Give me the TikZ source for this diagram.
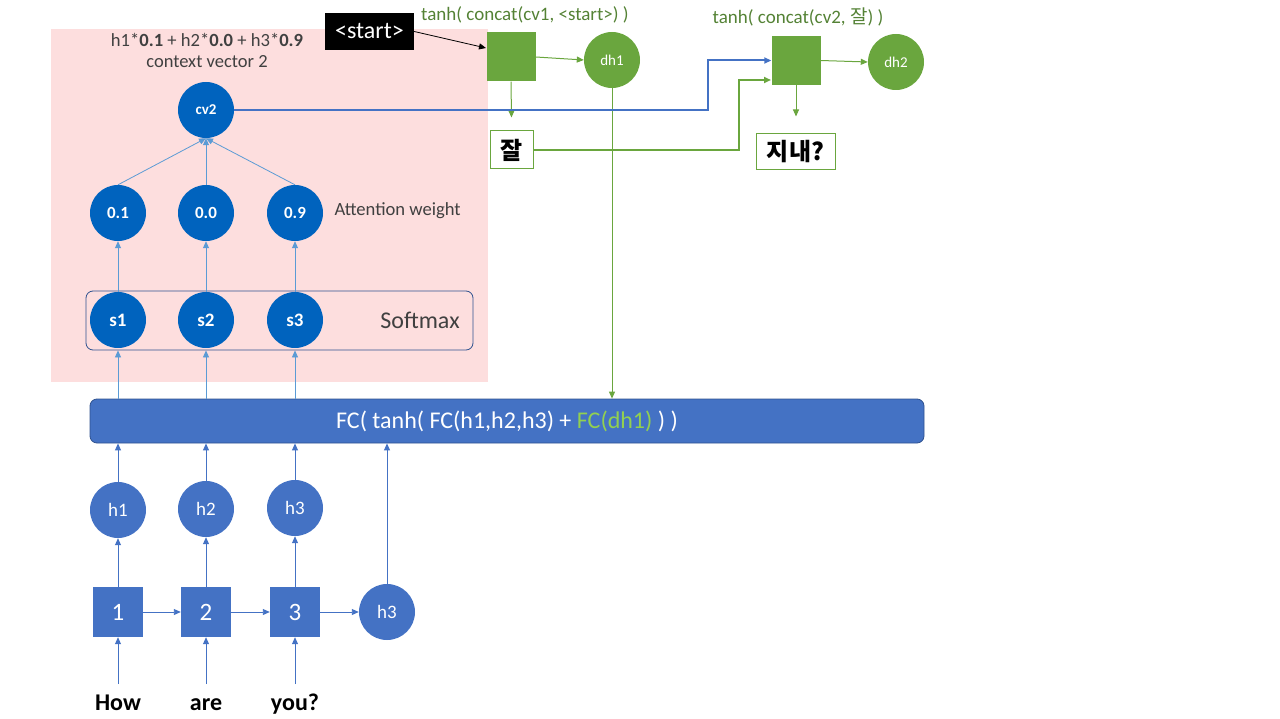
\documentclass[tikz,border=0pt]{standalone}
\usepackage{fontspec}
\setmainfont{Carlito}
\newfontfamily\krfont{Noto Sans CJK KR}
\usetikzlibrary{arrows.meta}
\definecolor{dblue}{RGB}{0,99,190}
\definecolor{mblue}{RGB}{68,114,196}
\definecolor{lblue}{RGB}{91,155,213}
\definecolor{navy}{RGB}{47,82,143}
\definecolor{pinkbg}{RGB}{253,222,222}
\definecolor{gfill}{RGB}{106,166,62}
\definecolor{gtext}{RGB}{84,130,53}
\definecolor{lgreen}{RGB}{146,208,80}
\definecolor{darktxt}{RGB}{64,64,64}
\newcommand{\fs}[1]{\fontsize{#1}{#1}\selectfont}
\tikzset{
  tip/.style={-{Triangle[length=7pt,width=6pt]}},
  dcirc/.style={circle, fill=dblue, minimum size=56pt, inner sep=0pt, text=white, font=\bfseries\fs{17}},
  mcirc/.style={circle, fill=mblue, minimum size=56pt, inner sep=0pt, text=white, font=\fs{19}},
  gcirc/.style={circle, fill=gfill, minimum size=56pt, inner sep=0pt, text=white, font=\fs{15}},
  mbox/.style={rectangle, fill=mblue, minimum size=50pt, inner sep=0pt, text=white, font=\fs{25}},
  gbox/.style={rectangle, fill=gfill, minimum size=49pt, inner sep=0pt},
  wbox/.style={rectangle, draw=gfill, line width=1pt, fill=white, inner sep=0pt, font=\krfont\bfseries\fs{24}},
  la/.style={draw=lblue, line width=0.8pt, tip},
  ma/.style={draw=mblue, line width=0.9pt, tip},
  ga/.style={draw=gfill, line width=1pt, tip},
  word/.style={font=\bfseries\fs{24}, anchor=base},
  gtitle/.style={text=gtext, font=\fs{19}},
}
\begin{document}
\begin{tikzpicture}[x=1pt,y=-1pt]
\useasboundingbox (0,0) rectangle (1280,719);
\fill[pinkbg] (51,29) rectangle (488,382);

% attention part
\node[text=darktxt, font=\fs{18.6}] (formula) at (207,40) {h1*\textbf{0.1} + h2*\textbf{0.0} + h3*\textbf{0.9}};
\node[text=darktxt, font=\fs{18.5}] (cvlabel) at (207,62) {context vector 2};
\node[dcirc, font=\bfseries\fs{15}] (cv2) at (206,110) {cv2};
\node[dcirc] (w1) at (118,213) {0.1};
\node[dcirc] (w2) at (206,213) {0.0};
\node[dcirc] (w3) at (295,213) {0.9};
\node[text=darktxt, font=\fs{18.6}, anchor=west] (attw) at (331,211) {Attention weight};
\node[draw=navy, line width=0.8pt, rounded corners=7pt, minimum width=387pt, minimum height=59pt] (smbox) at (279.5,320.5) {};
\node[dcirc, font=\bfseries\fs{19}] (s1) at (118,320) {s1};
\node[dcirc, font=\bfseries\fs{19}] (s2) at (206,320) {s2};
\node[dcirc, font=\bfseries\fs{19}] (s3) at (295,320) {s3};
\node[text=darktxt, font=\fs{24}] (smlabel) at (420,320) {Softmax};

\draw[la] (w1.north) -- (cv2.south);
\draw[la] (w2.north) -- (cv2.south);
\draw[la] (w3.north) -- (cv2.south);
\draw[la] (s1.north) -- (w1.south);
\draw[la] (s2.north) -- (w2.south);
\draw[la] (s3.north) -- (w3.south);

% FC bar
\node[rectangle, rounded corners=7pt, fill=mblue, draw=navy, line width=0.8pt, minimum width=834pt, minimum height=44pt, text=white, font=\fs{24}] (fc) at (507,421) {FC( tanh( FC(h1,h2,h3) + \textcolor{lgreen}{FC(dh1)} ) )};
\draw[la] (fc.north -| s1) -- (smbox.south -| s1);
\draw[la] (fc.north -| s2) -- (smbox.south -| s2);
\draw[la] (fc.north -| s3) -- (smbox.south -| s3);

% encoder
\node[mcirc] (h1) at (118,510) {h1};
\node[mcirc] (h2) at (206,509) {h2};
\node[mcirc] (h3) at (295,508) {h3};
\node[mbox] (b1) at (118,612) {1};
\node[mbox] (b2) at (206,612) {2};
\node[mbox] (b3) at (295,612) {3};
\node[mcirc] (hlast) at (387,612) {h3};
\node[word] (how) at (118,710) {How};
\node[word] (are) at (206,710) {are};
\node[word] (you) at (295,710) {you?};

\draw[ma] (h1.north) -- (h1 |- fc.south);
\draw[ma] (h2.north) -- (h2 |- fc.south);
\draw[ma] (h3.north) -- (h3 |- fc.south);
\draw[ma] (hlast.north) -- (hlast |- fc.south);
\draw[ma] (b1.north) -- (h1.south);
\draw[ma] (b2.north) -- (h2.south);
\draw[ma] (b3.north) -- (h3.south);
\draw[ma] (b1.east) -- (b2.west);
\draw[ma] (b2.east) -- (b3.west);
\draw[ma] (b3.east) -- (hlast.west);
\draw[ma] ([yshift=-47pt]b1.south) -- (b1.south);
\draw[ma] ([yshift=-47pt]b2.south) -- (b2.south);
\draw[ma] ([yshift=-47pt]b3.south) -- (b3.south);

% decoder
\node[fill=black, text=white, font=\fs{24}, minimum width=89pt, minimum height=37pt, inner sep=0pt] (start) at (369.5,31.5) {<start>};
\node[gtitle] (t1) at (525,15) {tanh( concat(cv1, <start>) )};
\node[gtitle] (t2) at (798,17) {tanh( concat(cv2, {\krfont 잘}) )};
\node[gbox] (g1) at (511,57) {};
\node[gcirc] (dh1) at (612,60) {dh1};
\node[gbox] (g2) at (796,60.5) {};
\node[gcirc] (dh2) at (896,62) {dh2};
\node[wbox, minimum width=43pt, minimum height=38pt] (jal) at (511.5,150) {잘};
\node[wbox, minimum width=79pt, minimum height=36pt] (jinae) at (795.5,152) {지내?};
\coordinate (g1in) at (486,48);
\coordinate (g2in) at (771,80);

\draw[black, line width=0.8pt, tip] (start.east) -- (g1in);
\draw[ga] (g1.east) -- (dh1.west);
\draw[ga] (g2.east) -- (dh2.west);
\draw[ga] (g1.south) -- ([yshift=13pt]jal.north);
\draw[ga] (g2.south) -- ([yshift=17pt]jinae.north -| g2);
\draw[ga] (dh1.south) -- (dh1 |- fc.north);
\draw[mblue, line width=2pt, tip] (cv2.east) -- ++(474,0) |- (g2.west);
\draw[gfill, line width=2pt, tip] (jal.east) -- ++(205,0) |- (g2in);
\end{tikzpicture}
\end{document}
